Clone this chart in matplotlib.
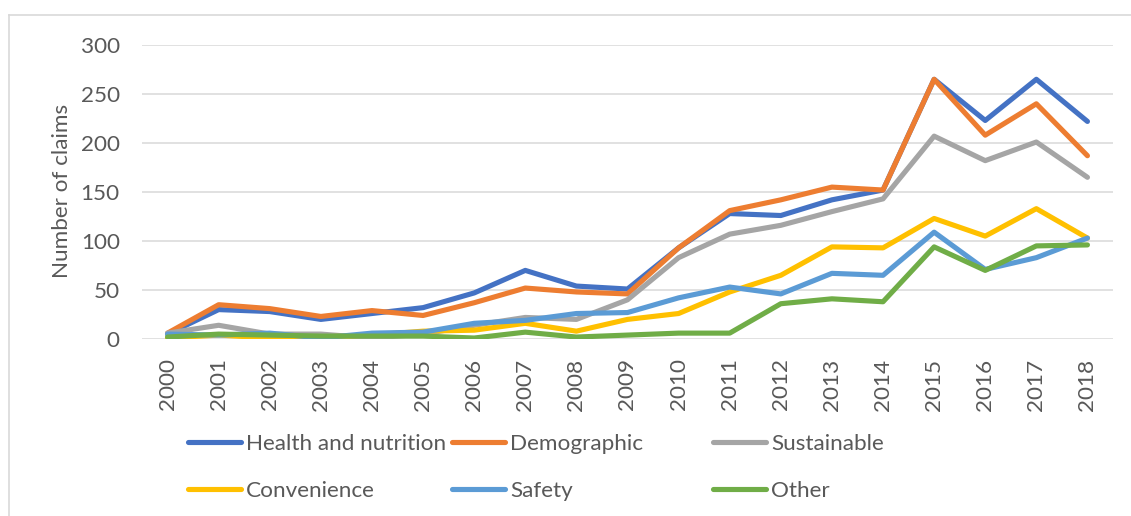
import matplotlib
matplotlib.use("Agg")
import matplotlib.pyplot as plt
from matplotlib.lines import Line2D

years = [str(y) for y in range(2000, 2019)]
health = [5, 30, 28, 20, 26, 32, 47, 70, 54, 51, 93, 128, 126, 142, 152, 265, 223, 265, 222]
demographic = [6, 35, 31, 23, 29, 24, 37, 52, 48, 46, 93, 131, 142, 155, 152, 265, 208, 240, 187]
sustainable = [6, 14, 5, 5, 1, 5, 14, 22, 20, 40, 83, 107, 116, 130, 143, 207, 182, 201, 165]
convenience = [1, 4, 1, 2, 4, 8, 9, 16, 8, 20, 26, 48, 65, 94, 93, 123, 105, 133, 103]
safety = [5, 4, 6, 1, 6, 7, 16, 19, 26, 27, 42, 53, 46, 67, 65, 109, 71, 83, 103]
other = [2, 5, 4, 3, 3, 3, 1, 7, 2, 4, 6, 6, 36, 41, 38, 94, 70, 95, 96]

series_names = ["Health and nutrition", "Demographic", "Sustainable",
                "Convenience", "Safety", "Other"]
series_values = [health, demographic, sustainable, convenience, safety, other]
colors = ["#4472C4", "#ED7D31", "#A5A5A5", "#FFC000", "#5B9BD5", "#70AD47"]
yticks = [0, 50, 100, 150, 200, 250, 300]

FONT = "Lato"
TXT = "#595959"
GRID = "#D9D9D9"
FS = 16.2

W, H = 1131, 516
fig = plt.figure(figsize=(W / 100, H / 100), dpi=100)
ax = fig.add_axes([142 / W, 1 - 339 / H, (1113 - 142) / W, (339 - 45) / H])

x = list(range(len(years)))
for name, vals, c in zip(series_names, series_values, colors):
    ax.plot(x, vals, color=c, lw=3.7, solid_capstyle="round",
            solid_joinstyle="round", label=name)

ax.set_xlim(-0.5, len(years) - 0.5)
ax.set_ylim(0, 300)
ax.set_yticks(yticks)
ax.set_yticklabels([str(v) for v in yticks], fontfamily=FONT, fontsize=FS, color=TXT)
ax.set_xticks(x)
ax.set_xticklabels(years, rotation=90, fontfamily=FONT, fontsize=FS, color=TXT)
ax.tick_params(axis="both", length=0)
ax.tick_params(axis="y", pad=16)
ax.tick_params(axis="x", pad=14)
ax.yaxis.grid(True, color=GRID, lw=1.1)
ax.set_axisbelow(True)
for s in ax.spines.values():
    s.set_visible(False)

fig.text(62 / W, 1 - 191 / H, "Number of claims", rotation=90, ha="center", va="center",
         fontfamily=FONT, fontsize=FS, color=TXT)

# legend: three columns of two entries
col_x = [188, 452, 713]
cols = [[0, 3], [1, 4], [2, 5]]
for cx, idx in zip(col_x, cols):
    hs = [Line2D([0], [1], color=colors[i], lw=3.7, solid_capstyle="round") for i in idx]
    lg = fig.legend(hs, [series_names[i] for i in idx], loc="upper left",
                    bbox_to_anchor=(cx / W, 1 - 434 / H), frameon=False,
                    handlelength=2.35, handletextpad=0.22, labelspacing=1.18,
                    borderpad=0, borderaxespad=0,
                    prop={"family": FONT, "size": FS})
    for t in lg.get_texts():
        t.set_color(TXT)

# chart frame
fig.add_artist(Line2D([8.5 / W, 1.0], [1 - 15 / H, 1 - 15 / H], transform=fig.transFigure,
                      color=GRID, lw=1.2))
fig.add_artist(Line2D([8.5 / W, 8.5 / W], [0, 1 - 15 / H], transform=fig.transFigure,
                      color=GRID, lw=1.2))

fig.savefig("out.png", dpi=100)
